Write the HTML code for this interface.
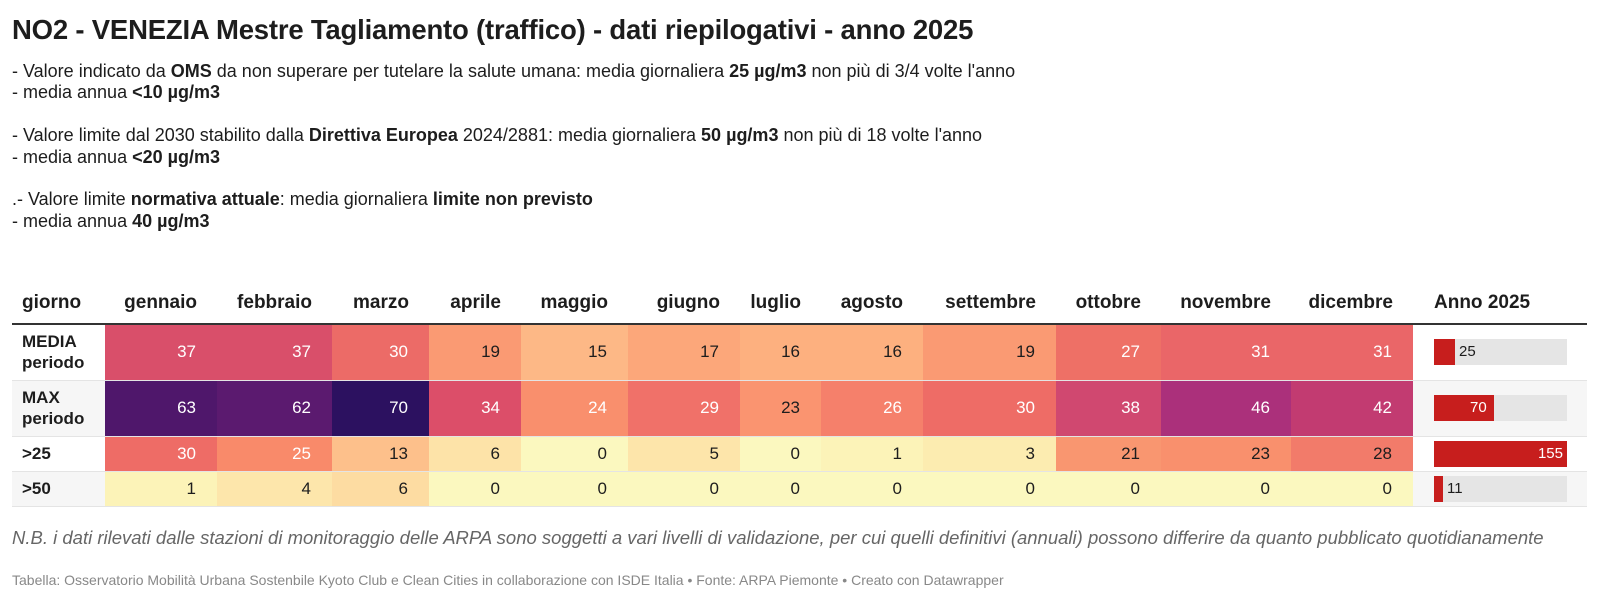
<!DOCTYPE html>
<html><head><meta charset="utf-8"><style>
body{margin:0;width:1600px;height:602px;background:#fff;font-family:"Liberation Sans",Arial,sans-serif;color:#1d1d1d;overflow:hidden;position:relative}
h1{position:absolute;left:12px;top:14px;margin:0;font-size:27.5px;font-weight:bold;letter-spacing:-0.2px}
.d{position:absolute;left:12px;top:61px;font-size:18px;line-height:21.4px}
table{position:absolute;left:12px;top:283px;border-collapse:collapse;font-size:17px;table-layout:fixed;width:1575px}
th{font-size:19px;font-weight:bold;height:40px;text-align:right;padding:0 20px 0 0;border-bottom:2px solid #333;vertical-align:middle}
th.l{text-align:left;padding-left:10px}
td{text-align:right;padding:0 21px 0 0;border-bottom:1px solid #e4e4e4}
td.l{text-align:left;font-weight:bold;padding-left:10px;line-height:21px}
tr.s td.l,tr.s td.b{background:#f6f6f6}
.w{color:#fff}
td.b{padding:0 0 0 21px;text-align:left}
.bar{position:relative;width:133px;height:26px;background:#e5e5e5}
.bar i{position:absolute;left:0;top:0;bottom:0;background:#c71e1d}
.bar span{position:absolute;top:4px;font-size:15px}
.n{position:absolute;left:12px;top:527px;font-size:18.5px;font-style:italic;color:#666}
.f{position:absolute;left:12px;top:572px;font-size:14px;color:#888}
</style></head><body>
<h1>NO2 - VENEZIA Mestre Tagliamento (traffico) - dati riepilogativi - anno 2025</h1>
<div class="d">- Valore indicato da <b>OMS</b> da non superare per tutelare la salute umana: media giornaliera <b>25 µg/m3</b> non più di 3/4 volte l'anno<br>- media annua <b>&lt;10 µg/m3</b><br><br>- Valore limite dal 2030 stabilito dalla <b>Direttiva Europea</b> 2024/2881: media giornaliera <b>50 µg/m3</b> non più di 18 volte l'anno<br>- media annua <b>&lt;20 µg/m3</b><br><br>.- Valore limite <b>normativa attuale</b>: media giornaliera <b>limite non previsto</b><br>- media annua <b>40 µg/m3</b></div>
<table>
<colgroup><col style="width:93px"><col style="width:112px"><col style="width:115px"><col style="width:97px"><col style="width:92px"><col style="width:107px"><col style="width:112px"><col style="width:81px"><col style="width:102px"><col style="width:133px"><col style="width:105px"><col style="width:130px"><col style="width:122px"><col style="width:174px"></colgroup>
<tr><th class="l">giorno</th><th>gennaio</th><th>febbraio</th><th>marzo</th><th>aprile</th><th>maggio</th><th>giugno</th><th>luglio</th><th>agosto</th><th>settembre</th><th>ottobre</th><th>novembre</th><th>dicembre</th><th class="l" style="padding-left:21px">Anno 2025</th></tr>
<tr style="height:56px"><td class="l">MEDIA<br>periodo</td><td class="w" style="background:#d94f6a">37</td><td class="w" style="background:#d94f6a">37</td><td class="w" style="background:#ec6b67">30</td><td style="background:#fa9a73">19</td><td style="background:#fdb886">15</td><td style="background:#fca77a">17</td><td style="background:#fdb07f">16</td><td style="background:#fdb07f">16</td><td style="background:#fa9a73">19</td><td class="w" style="background:#ee7066">27</td><td class="w" style="background:#ea6668">31</td><td class="w" style="background:#ea6668">31</td><td class="b"><div class="bar"><i style="width:21px"></i><span style="left:25px">25</span></div></td></tr>
<tr class="s" style="height:56px"><td class="l">MAX<br>periodo</td><td class="w" style="background:#4f176b">63</td><td class="w" style="background:#5b1a6f">62</td><td class="w" style="background:#2c1160">70</td><td class="w" style="background:#dc4e69">34</td><td class="w" style="background:#f98f6d">24</td><td class="w" style="background:#f07169">29</td><td style="background:#fa9470">23</td><td class="w" style="background:#f5806b">26</td><td class="w" style="background:#ee6c66">30</td><td class="w" style="background:#d04870">38</td><td class="w" style="background:#ab307b">46</td><td class="w" style="background:#c23b71">42</td><td class="b"><div class="bar"><i style="width:60px"></i><span class="w" style="left:36px">70</span></div></td></tr>
<tr style="height:35px"><td class="l">&gt;25</td><td class="w" style="background:#ee6c66">30</td><td class="w" style="background:#f98a6a">25</td><td style="background:#fdc08b">13</td><td style="background:#fde3a8">6</td><td style="background:#fbf8bf">0</td><td style="background:#fde5aa">5</td><td style="background:#fbf8bf">0</td><td style="background:#fcf3b8">1</td><td style="background:#fcecb0">3</td><td style="background:#f99670">21</td><td style="background:#f9906d">23</td><td style="background:#f27b6a">28</td><td class="b"><div class="bar"><i style="width:133px"></i><span class="w" style="right:4px">155</span></div></td></tr>
<tr class="s" style="height:35px"><td class="l">&gt;50</td><td style="background:#fcf3b8">1</td><td style="background:#fde6ab">4</td><td style="background:#fddca2">6</td><td style="background:#fbf8bf">0</td><td style="background:#fbf8bf">0</td><td style="background:#fbf8bf">0</td><td style="background:#fbf8bf">0</td><td style="background:#fbf8bf">0</td><td style="background:#fbf8bf">0</td><td style="background:#fbf8bf">0</td><td style="background:#fbf8bf">0</td><td style="background:#fbf8bf">0</td><td class="b"><div class="bar"><i style="width:9px"></i><span style="left:13px">11</span></div></td></tr>
</table>
<div class="n">N.B. i dati rilevati dalle stazioni di monitoraggio delle ARPA sono soggetti a vari livelli di validazione, per cui quelli definitivi (annuali) possono differire da quanto pubblicato quotidianamente</div>
<div class="f">Tabella: Osservatorio Mobilità Urbana Sostenbile Kyoto Club e Clean Cities in collaborazione con ISDE Italia • Fonte: ARPA Piemonte • Creato con Datawrapper</div>
</body></html>
